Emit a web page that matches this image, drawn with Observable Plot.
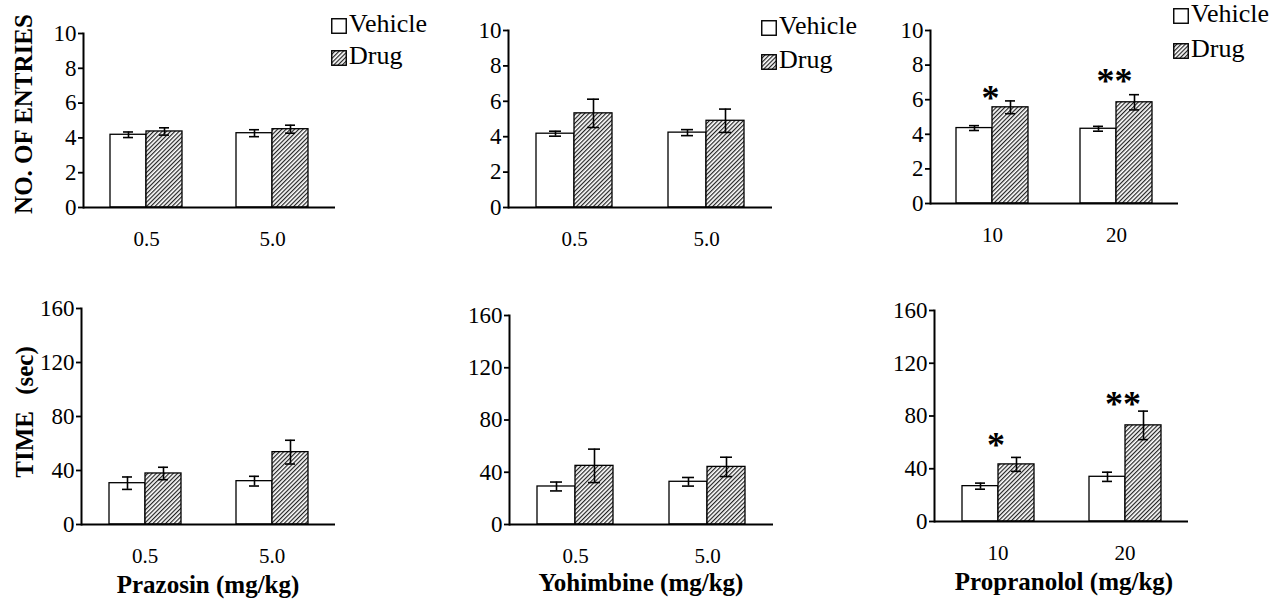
<!DOCTYPE html>
<html>
<head>
<meta charset="utf-8">
<script src="https://cdn.jsdelivr.net/npm/d3@7"></script>
<script src="https://cdn.jsdelivr.net/npm/@observablehq/plot@0.6"></script>
<style>
  body { margin: 0; background: #fff; }
  #root { position: relative; width: 1278px; height: 607px; overflow: hidden; background: #fff;
          font-family: "Liberation Serif", "Times New Roman", serif; color: #000; }
  .lbl { position: absolute; font-family: "Liberation Serif", "Times New Roman", serif; font-weight: bold; font-size: 25px; line-height: 25px; white-space: nowrap; }
  .leg { position: absolute; font-family: "Liberation Serif", "Times New Roman", serif; font-size: 26px; line-height: 26px; white-space: nowrap; }
  .sw { position: absolute; }
  #root svg g[aria-label="y-axis tick label"] { font-size: 23px; }
  #root svg g[aria-label="fx-axis tick label"] { font-size: 21px; }
  #root svg g[aria-label="y-axis tick"] { stroke-width: 1.8px; }
  #root svg g[aria-label="frame"] { stroke-width: 2px; }
</style>
</head>
<body>
<svg width="0" height="0" style="position:absolute">
  <defs>
    <pattern id="hatch" patternUnits="userSpaceOnUse" width="3" height="3" patternTransform="rotate(45)">
      <rect width="3" height="3" fill="#fff"></rect>
      <line x1="0.6" y1="0" x2="0.6" y2="3" stroke="#222" stroke-width="1.2"></line>
    </pattern>
  </defs>
</svg>
<div id="root"></div>
<script>
// ---------------- data ----------------
const treatments = ["Vehicle", "Drug"];
const yTicksEntries = [0, 2, 4, 6, 8, 10];
const yTicksTime = [0, 40, 80, 120, 160];

const prazosinDoses = ["0.5", "5.0"];
const yohimbineDoses = ["0.5", "5.0"];
const propranololDoses = ["10", "20"];

// NO. OF ENTRIES (mean, SEM)
const entriesPrazosinVehicle = [4.18, 4.27];
const entriesPrazosinVehicleSE = [0.16, 0.20];
const entriesPrazosinDrug = [4.37, 4.50];
const entriesPrazosinDrugSE = [0.21, 0.23];

const entriesYohimbineVehicle = [4.17, 4.23];
const entriesYohimbineVehicleSE = [0.14, 0.17];
const entriesYohimbineDrug = [5.32, 4.90];
const entriesYohimbineDrugSE = [0.80, 0.66];

const entriesPropranololVehicle = [4.36, 4.32];
const entriesPropranololVehicleSE = [0.14, 0.14];
const entriesPropranololDrug = [5.56, 5.85];
const entriesPropranololDrugSE = [0.37, 0.44];

// TIME (sec) (mean, SEM)
const timePrazosinVehicle = [30.6, 32.1];
const timePrazosinVehicleSE = [4.6, 3.6];
const timePrazosinDrug = [37.8, 53.6];
const timePrazosinDrugSE = [4.6, 8.8];

const timeYohimbineVehicle = [29.1, 32.7];
const timeYohimbineVehicleSE = [3.4, 3.3];
const timeYohimbineDrug = [44.9, 44.1];
const timeYohimbineDrugSE = [12.8, 7.4];

const timePropranololVehicle = [26.8, 33.9];
const timePropranololVehicleSE = [2.3, 3.5];
const timePropranololDrug = [43.3, 72.9];
const timePropranololDrugSE = [5.3, 10.8];

// significance markers (Propranolol)
const propranololStars = ["*", "**"];
const entriesStarY = [6.4, 7.4];
const timeStarY = [62, 93];

// ---------------- drawing ----------------
const root = document.getElementById("root");
const serif = "'Liberation Serif', 'Times New Roman', serif";

function makePanel(cfg) {
  const rows = [];
  cfg.doses.forEach((dose, i) => {
    rows.push({dose, trt: "Vehicle", v: cfg.vehicle[i], se: cfg.vehicleSE[i]});
    rows.push({dose, trt: "Drug", v: cfg.drug[i], se: cfg.drugSE[i]});
  });
  const starRows = cfg.stars ? cfg.doses.map((dose, i) => ({dose, s: cfg.stars[i], y: cfg.starY[i]})) : [];
  const W = cfg.width, H = cfg.height;
  const chart = Plot.plot({
    width: W,
    height: H,
    marginLeft: cfg.axisLeft - cfg.left,
    marginRight: cfg.left + W - cfg.axisRight,
    marginTop: cfg.yTop - cfg.top,
    marginBottom: cfg.top + H - cfg.yZero,
    style: `font-family: ${serif}; font-size: 20px; background: transparent; color: #000; overflow: visible;`,
    fx: {domain: cfg.doses, padding: 0, axis: "bottom", tickSize: 0, tickPadding: 24, label: null},
    x: {domain: treatments, paddingInner: 0, paddingOuter: 0.72, axis: null},
    y: {domain: [0, cfg.yMax], ticks: cfg.yTicks, tickSize: 5, tickPadding: 2, line: true, label: null},
    color: {domain: treatments, range: ["#fff", "url(#hatch)"]},
    marks: [
      Plot.barY(rows, {fx: "dose", x: "trt", y: "v", fill: "trt", stroke: "#000", strokeWidth: 1.3}),
      Plot.ruleX(rows, {fx: "dose", x: "trt", y1: d => d.v - d.se, y2: d => d.v + d.se, stroke: "#000", strokeWidth: 1.6}),
      Plot.tickY(rows, {fx: "dose", x: "trt", y: d => d.v - d.se, stroke: "#000", strokeWidth: 1.6, inset: 13}),
      Plot.tickY(rows, {fx: "dose", x: "trt", y: d => d.v + d.se, stroke: "#000", strokeWidth: 1.6, inset: 13}),
      Plot.ruleY([0], {stroke: "#000", strokeWidth: 2}),
      Plot.text(starRows, {fx: "dose", y: "y", text: "s", fontSize: 36, fontWeight: "bold", fontFamily: serif, fill: "#000", dy: 6, dx: -2})
    ]
  });
  chart.style.position = "absolute";
  chart.style.left = cfg.left + "px";
  chart.style.top = cfg.top + "px";
  root.appendChild(chart);
}

// top row: number of entries
makePanel({doses: prazosinDoses, vehicle: entriesPrazosinVehicle, vehicleSE: entriesPrazosinVehicleSE,
  drug: entriesPrazosinDrug, drugSE: entriesPrazosinDrugSE, yMax: 10, yTicks: yTicksEntries,
  left: 0, top: 0, width: 345, height: 265, axisLeft: 83, axisRight: 335, yTop: 33, yZero: 207});
makePanel({doses: yohimbineDoses, vehicle: entriesYohimbineVehicle, vehicleSE: entriesYohimbineVehicleSE,
  drug: entriesYohimbineDrug, drugSE: entriesYohimbineDrugSE, yMax: 10, yTicks: yTicksEntries,
  left: 430, top: 0, width: 350, height: 265, axisLeft: 508, axisRight: 772, yTop: 30, yZero: 207});
makePanel({doses: propranololDoses, vehicle: entriesPropranololVehicle, vehicleSE: entriesPropranololVehicleSE,
  drug: entriesPropranololDrug, drugSE: entriesPropranololDrugSE, yMax: 10, yTicks: yTicksEntries,
  stars: propranololStars, starY: entriesStarY,
  left: 860, top: 0, width: 330, height: 265, axisLeft: 929, axisRight: 1178, yTop: 30, yZero: 203});

// bottom row: time
makePanel({doses: prazosinDoses, vehicle: timePrazosinVehicle, vehicleSE: timePrazosinVehicleSE,
  drug: timePrazosinDrug, drugSE: timePrazosinDrugSE, yMax: 160, yTicks: yTicksTime,
  left: 0, top: 280, width: 345, height: 290, axisLeft: 80, axisRight: 335, yTop: 308, yZero: 524});
makePanel({doses: yohimbineDoses, vehicle: timeYohimbineVehicle, vehicleSE: timeYohimbineVehicleSE,
  drug: timeYohimbineDrug, drugSE: timeYohimbineDrugSE, yMax: 160, yTicks: yTicksTime,
  left: 430, top: 280, width: 350, height: 290, axisLeft: 508, axisRight: 773, yTop: 315, yZero: 524});
makePanel({doses: propranololDoses, vehicle: timePropranololVehicle, vehicleSE: timePropranololVehicleSE,
  drug: timePropranololDrug, drugSE: timePropranololDrugSE, yMax: 160, yTicks: yTicksTime,
  stars: propranololStars, starY: timeStarY,
  left: 860, top: 280, width: 340, height: 290, axisLeft: 933, axisRight: 1188, yTop: 310, yZero: 521});

// ---------------- labels & legends ----------------
function addLabel(html, x, baseline, rotate) {
  const d = document.createElement("div");
  d.className = "lbl";
  d.innerHTML = html;
  root.appendChild(d);
  d.style.left = x + "px";
  if (rotate) {
    d.style.top = baseline + "px";
    d.style.transform = "translate(-50%,-50%) rotate(-90deg)";
  } else {
    d.style.top = (baseline - 21) + "px";
    d.style.transform = "translateX(-50%)";
  }
}
addLabel("NO. OF ENTRIES", 23, 114, true);
addLabel('TIME <span style="margin-left:10px">(sec)</span>', 24, 412, true);
addLabel("Prazosin (mg/kg)", 208, 593, false);
addLabel("Yohimbine (mg/kg)", 641, 591, false);
addLabel("Propranolol (mg/kg)", 1064, 590, false);

function addLegend(x, y1, y2) {
  treatments.forEach((t, i) => {
    const base = i === 0 ? y1 : y2;
    const sw = document.createElementNS("http://www.w3.org/2000/svg", "svg");
    sw.setAttribute("class", "sw");
    sw.setAttribute("width", 16);
    sw.setAttribute("height", 16);
    sw.style.left = x + "px";
    sw.style.top = (base - 15) + "px";
    sw.innerHTML = `<rect x="0.75" y="0.75" width="14.5" height="14.5" fill="${i === 0 ? "#fff" : "url(#hatch)"}" stroke="#000" stroke-width="1.4"></rect>`;
    root.appendChild(sw);
    const tx = document.createElement("div");
    tx.className = "leg";
    tx.textContent = t;
    tx.style.left = (x + 18) + "px";
    tx.style.top = (base - 22) + "px";
    root.appendChild(tx);
  });
}
addLegend(331, 33, 65);
addLegend(761, 35, 69);
addLegend(1173, 23, 58);
</script>
</body>
</html>
